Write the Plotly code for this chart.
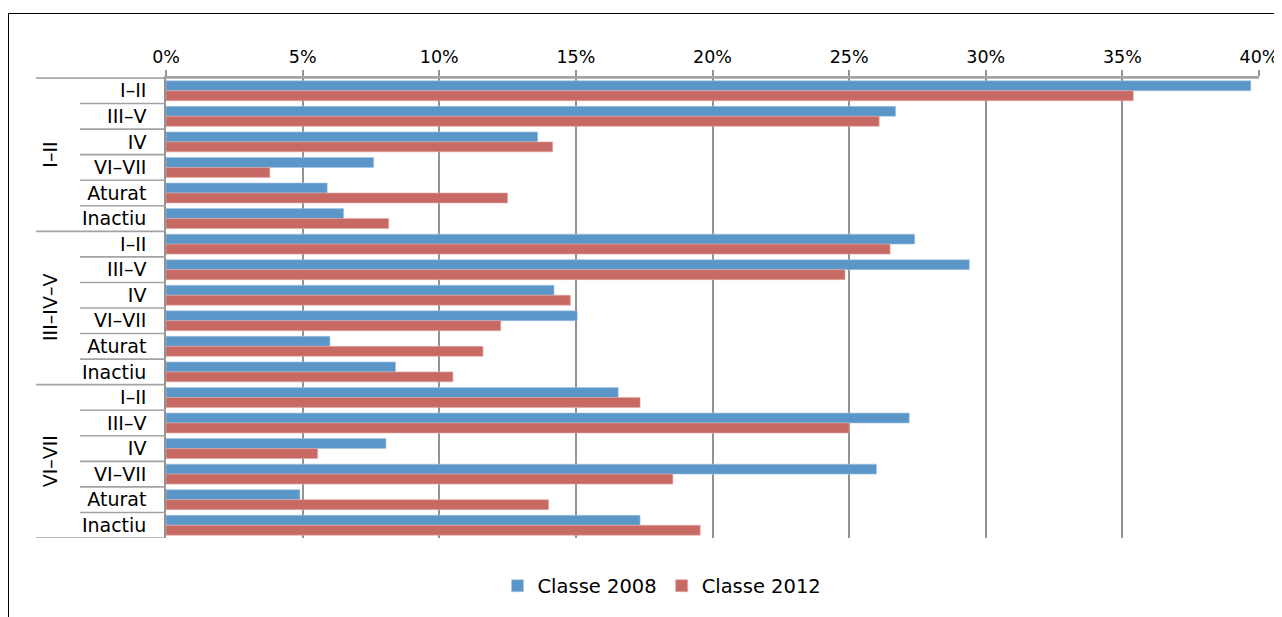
import plotly.graph_objects as go

groups = ["I\u2013II", "III\u2013IV\u2013V", "VI\u2013VII"]
subcats = ["I\u2013II", "III\u2013V", "IV", "VI\u2013VII", "Aturat", "Inactiu"]

classe_2008 = [39.7, 26.7, 13.6, 7.6, 5.9, 6.5,
               27.4, 29.4, 14.2, 15.05, 6.0, 8.4,
               16.55, 27.2, 8.05, 26.0, 4.9, 17.35]
classe_2012 = [35.4, 26.1, 14.15, 3.8, 12.5, 8.15,
               26.5, 24.85, 14.8, 12.25, 11.6, 10.5,
               17.35, 25.0, 5.55, 18.55, 14.0, 19.55]

x_ticks = [0, 5, 10, 15, 20, 25, 30, 35, 40]

n_rows = len(groups) * len(subcats)
rows = list(range(n_rows))
row_labels = [s for g in groups for s in subcats]

# the page body has an 8px margin; figure pixel = page pixel - 8
OFF = 8
W, H = 1282 - OFF, 617 - OFF
L, R, T, B = 166 - OFF, 1259 - OFF, 78 - OFF, 538 - OFF
pw, ph = R - L, B - T


def px_x(px):
    return (px - OFF - L) / pw


def px_y(py):
    return (B - (py - OFF)) / ph


fig = go.Figure()
fig.add_trace(go.Bar(
    name="Classe 2008", y=rows, x=classe_2008, orientation="h",
    marker=dict(color="#5B96C8", line=dict(color="#A9C6E3", width=0.6)),
))
fig.add_trace(go.Bar(
    name="Classe 2012", y=rows, x=classe_2012, orientation="h",
    marker=dict(color="#C86A64", line=dict(color="#E2AAA6", width=0.6)),
))

shapes = []
line_col = "#A3A3A3"
for b in range(n_rows + 1):
    yb = b - 0.5
    is_group = (b % len(subcats) == 0)
    x0 = px_x(36) if is_group else px_x(80)
    shapes.append(dict(type="line", xref="paper", yref="y",
                       x0=x0, x1=0, y0=yb, y1=yb,
                       line=dict(color=line_col, width=1.6)))
shapes.append(dict(type="line", xref="paper", yref="paper",
                   x0=px_x(36), x1=1, y0=1, y1=1,
                   line=dict(color=line_col, width=1.6)))
shapes.append(dict(type="rect", xref="paper", yref="paper",
                   x0=px_x(8.5), x1=px_x(1290), y0=px_y(660), y1=px_y(13.5),
                   line=dict(color="#000000", width=1)))

annotations = []
for gi, g in enumerate(groups):
    yc = gi * len(subcats) + (len(subcats) - 1) / 2
    annotations.append(dict(
        text=g, xref="paper", yref="y", x=px_x(50), y=yc,
        showarrow=False, textangle=-90,
        font=dict(family="DejaVu Sans", size=19, color="#000000"),
        xanchor="center", yanchor="middle"))

fig.update_layout(
    width=W, height=H,
    margin=dict(l=L, r=W - R, t=T, b=H - B, pad=0, autoexpand=False),
    paper_bgcolor="white", plot_bgcolor="white",
    barmode="group", bargap=0.22, bargroupgap=0.0,
    font=dict(family="DejaVu Sans", size=17, color="#000000"),
    shapes=shapes, annotations=annotations,
    showlegend=True,
    legend=dict(orientation="h", x=px_x(662), xanchor="center",
                y=px_y(586), yanchor="middle",
                font=dict(family="DejaVu Sans", size=19.5),
                itemwidth=30, traceorder="normal"),
    xaxis=dict(side="top", range=[0, 40], tickvals=x_ticks,
               ticktext=[f"{v}%" for v in x_ticks],
               tickfont=dict(size=17.5), ticklabeloverflow="allow",
               showgrid=True, gridcolor="#939393", gridwidth=1.6,
               showline=True, linecolor=line_col, linewidth=1.6,
               ticks="outside", ticklen=6, tickcolor="#939393", tickwidth=1.6,
               zeroline=False, fixedrange=True),
    yaxis=dict(range=[n_rows - 0.5, -0.5], tickvals=rows, ticktext=row_labels,
               tickfont=dict(size=19),
               showgrid=False, showline=True, linecolor="#939393", linewidth=1.6,
               ticks="", ticklabelstandoff=14, zeroline=False, fixedrange=True),
)

fig.write_html("out.html")
